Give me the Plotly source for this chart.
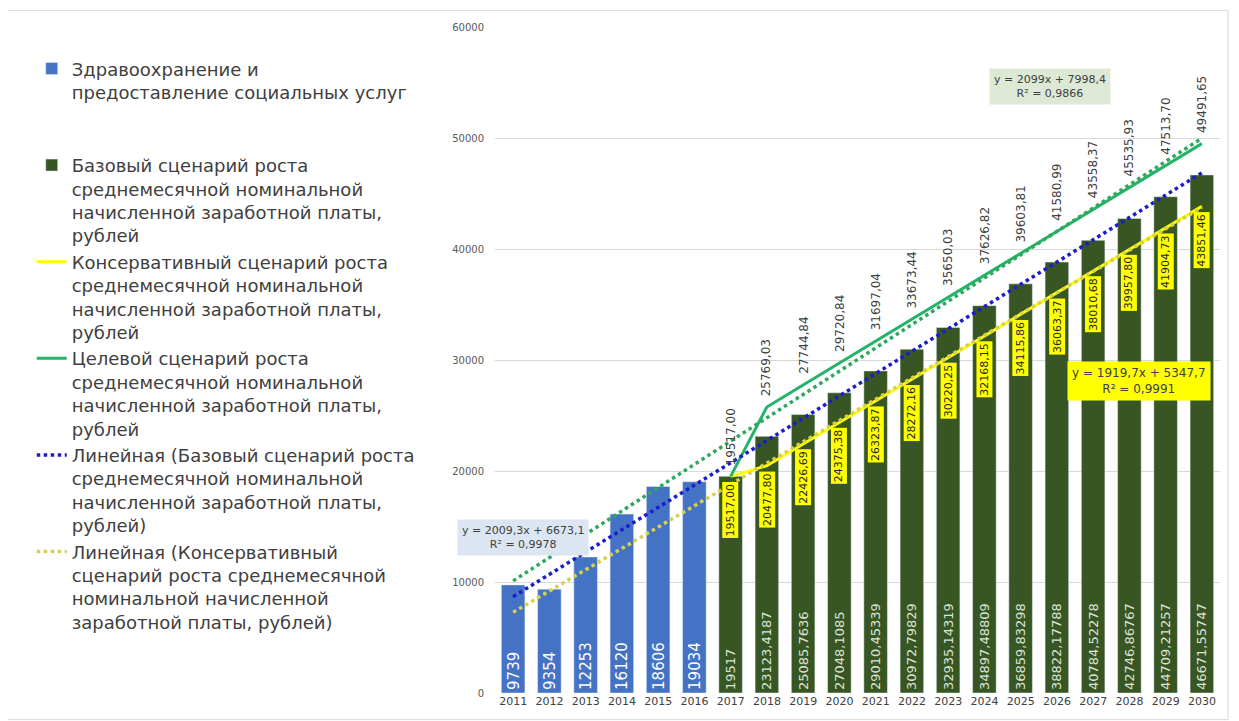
import plotly.graph_objects as go

# Data
years = [str(y) for y in range(2011, 2031)]
years_fact = years[:6]
years_plan = years[6:]

health = [9739, 9354, 12253, 16120, 18606, 19034]
base = [19517, 23123.4187, 25085.7636, 27048.1085, 29010.45339, 30972.79829, 32935.14319,
        34897.48809, 36859.83298, 38822.17788, 40784.52278, 42746.86767, 44709.21257, 46671.55747]
conservative = [19517.00, 20477.80, 22426.69, 24375.38, 26323.87, 28272.16, 30220.25,
                32168.15, 34115.86, 36063.37, 38010.68, 39957.80, 41904.73, 43851.46]
target = [19517.00, 25769.03, 27744.84, 29720.84, 31697.04, 33673.44, 35650.03,
          37626.82, 39603.81, 41580.99, 43558.37, 45535.93, 47513.70, 49491.65]

# trend lines (endpoints, 2011 and 2030)
trend_years = ['2011', '2030']
trend_base = [8680, 46860]
trend_cons = [7270, 43740]
trend_target = [10100, 49980]

tail = "среднемесячной номинальной<br>начисленной заработной платы,<br>рублей"
names = {
    'health': "Здравоохранение и<br>предоставление социальных услуг<br> <br> ",
    'base': "Базовый сценарий роста<br>" + tail,
    'cons': "Консервативный сценарий роста<br>" + tail,
    'target': "Целевой сценарий роста<br>" + tail,
    'tbase': "Линейная (Базовый сценарий роста<br>" + tail + ")",
    'tcons': "Линейная (Консервативный<br>сценарий роста среднемесячной<br>номинальной начисленной<br>заработной платы, рублей)",
}


def ru(v):
    return str(v).replace('.', ',')


def ru2(v):
    return f"{v:.2f}".replace('.', ',')


fig = go.Figure()

fig.add_trace(go.Bar(x=years_fact, y=health, name=names['health'], marker_color='#4472c4',
                     text=[ru(v) for v in health], textposition='inside', insidetextanchor='start',
                     textangle=-90, textfont=dict(size=18, color='white', family='DejaVu Sans')))
fig.add_trace(go.Bar(x=years_plan, y=base, name=names['base'], marker_color='#375623',
                     text=[ru(v) for v in base], textposition='inside', insidetextanchor='start',
                     textangle=-90, textfont=dict(size=13, color='#dde3d6', family='DejaVu Sans')))

fig.add_trace(go.Scatter(x=years_plan, y=conservative, name=names['cons'], mode='lines',
                         line=dict(color='#ffff00', width=3)))
fig.add_trace(go.Scatter(x=years_plan, y=target, name=names['target'], mode='lines',
                         line=dict(color='#25b36a', width=3)))
fig.add_trace(go.Scatter(x=trend_years, y=trend_base, name=names['tbase'], mode='lines',
                         line=dict(color='#1c1ccc', width=3.5, dash='dot')))
fig.add_trace(go.Scatter(x=trend_years, y=trend_cons, name=names['tcons'], mode='lines',
                         line=dict(color='#d6d04a', width=3.5, dash='dot')))
fig.add_trace(go.Scatter(x=trend_years, y=trend_target, showlegend=False, mode='lines',
                         line=dict(color='#2ea85c', width=3.5, dash='dot')))

# annotations on a category axis take the category index
annotations = []
for yr, v in zip(years_plan, target):
    annotations.append(dict(x=years.index(yr), y=v, text=ru2(v), textangle=-90, xanchor='center',
                            yanchor='bottom', yshift=9, showarrow=False,
                            font=dict(size=12, color='#404040')))
for yr, v in zip(years_plan, conservative):
    annotations.append(dict(x=years.index(yr), y=v, text=ru2(v), textangle=-90, xanchor='center',
                            yanchor='top', yshift=-5, showarrow=False, bgcolor='#ffff00', borderpad=1,
                            font=dict(size=11, color='#262626')))

annotations += [
    dict(xref='paper', yref='paper', x=0.039, y=0.234, xanchor='center', yanchor='middle',
         text="y = 2009,3x + 6673,1<br>R² = 0,9978",
         showarrow=False, bgcolor='#dce6f2', borderpad=4, font=dict(size=11, color='#404040')),
    dict(xref='paper', yref='paper', x=0.766, y=0.911, xanchor='center', yanchor='middle',
         text="y = 2099x + 7998,4<br>R² = 0,9866",
         showarrow=False, bgcolor='#dde9d5', borderpad=4, font=dict(size=11, color='#404040')),
    dict(xref='paper', yref='paper', x=0.888, y=0.468, xanchor='center', yanchor='middle',
         text="y = 1919,7x + 5347,7<br>R² = 0,9991",
         showarrow=False, bgcolor='#ffff00', borderpad=4, font=dict(size=12, color='#404040')),
]

fig.update_layout(
    width=1239,
    height=721,
    margin=dict(l=487, r=27, t=19, b=36),
    paper_bgcolor='white',
    plot_bgcolor='white',
    barmode='overlay',
    bargap=0.35,
    font=dict(family='DejaVu Sans', color='#404040'),
    annotations=annotations,
    legend=dict(
        x=-0.639, y=0.965, xanchor='left', yanchor='top',
        valign='top',
        font=dict(size=18, color='#404040', family='DejaVu Sans'),
        traceorder='normal',
        tracegroupgap=0,
    ),
    shapes=[dict(type='rect', xref='paper', yref='paper', x0=-0.673, x1=1.011, y0=-0.04, y1=1.025,
                 line=dict(color='#d9d9d9', width=1))],
)

fig.update_xaxes(type='category', categoryorder='array', categoryarray=years, range=[-0.5, 19.5],
                 showgrid=False, showline=False, ticks='', tickfont=dict(size=11, color='#404040'))
fig.update_yaxes(range=[0, 60000], dtick=10000, tickformat='d', showgrid=True, gridcolor='#d9d9d9',
                 gridwidth=1, zeroline=False, showline=False, ticklabelstandoff=10,
                 tickfont=dict(size=10, color='#595959'))

fig.write_html("out.html")
